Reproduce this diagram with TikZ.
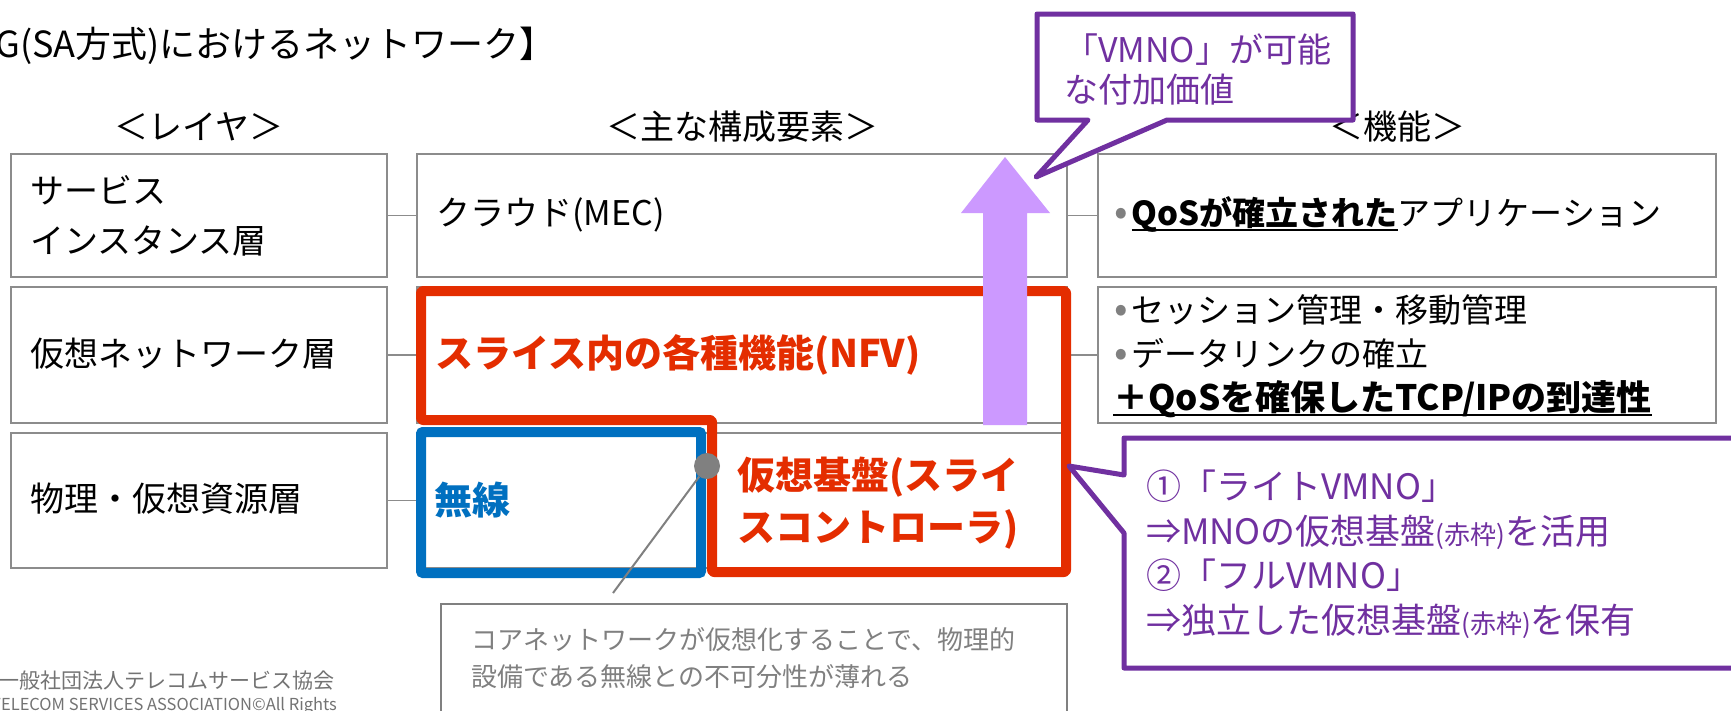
\documentclass[tikz,border=0pt]{standalone}
\usepackage{fontspec}
\setmainfont{Noto Sans CJK JP}
\definecolor{bd}{HTML}{8C8C8C}
\definecolor{rd}{HTML}{E42D00}
\definecolor{bl}{HTML}{0070C0}
\definecolor{pu}{HTML}{7030A0}
\definecolor{lp}{HTML}{CC99FF}
\definecolor{gt}{HTML}{808080}
\newcommand\myul[1]{\setbox0=\hbox{#1}\rlap{\rule[-6pt]{\wd0}{2.5pt}}\box0}
\newcommand\gbul{{\fontsize{40}{40}\selectfont\textcolor{gt}{•}}\hspace{4pt}}
\tikzset{
  box/.style={draw=bd, line width=1.6pt, rectangle, inner sep=0pt, anchor=north west},
  conn/.style={draw=bd, line width=1.6pt},
  txt/.style={anchor=west, inner sep=0pt, align=left, font=\fontsize{34}{50}\selectfont},
  rtxt/.style={txt, text=rd, font=\fontsize{38}{52}\selectfont\bfseries},
  ptxt/.style={txt, text=pu, font=\fontsize{35}{44.5}\selectfont},
  hdr/.style={anchor=center, inner sep=0pt, font=\fontsize{34}{40}\selectfont},
}
\begin{document}
\begin{tikzpicture}[x=1pt,y=-1pt]
\useasboundingbox (0,0) rectangle (1731,710);
\fill[white] (0,0) rectangle (1731,710);

% title and headers
\node[txt, font=\fontsize{36}{40}\selectfont] (title) at (-5,46) {G(SA方式)におけるネットワーク】};
\node[hdr] (hL) at (199,127) {＜レイヤ＞};
\node[hdr] (hM) at (742,127) {＜主な構成要素＞};
\node[hdr] (hR) at (1397,127) {＜機能＞};

% layer boxes
\node[box, minimum width=376pt, minimum height=123pt] (L1) at (10,153) {};
\node[box, minimum width=376pt, minimum height=136pt] (L2) at (10,286) {};
\node[box, minimum width=376pt, minimum height=135pt] (L3) at (10,432) {};
\node[box, minimum width=650pt, minimum height=123pt] (M1) at (416,153) {};
\node[box, minimum width=650pt, minimum height=136pt] (M2) at (416,286) {};
\node[box, minimum width=650pt, minimum height=135pt] (M3) at (416,432) {};
\node[box, minimum width=618pt, minimum height=123pt] (R1) at (1097,153) {};
\node[box, minimum width=618pt, minimum height=136pt] (R2) at (1097,286) {};

\draw[conn] (L1.east) -- (M1.west);
\draw[conn] (L2.east) -- (M2.west);
\draw[conn] (L3.east) -- (M3.west);
\draw[conn] (M1.east) -- (R1.west);
\draw[conn] (M2.east) -- (R2.west);

% layer texts
\node[txt] (t1) at (30,216) {サービス\\インスタンス層};
\node[txt] (t2) at (30,354) {仮想ネットワーク層};
\node[txt] (t3) at (30,499) {物理・仮想資源層};
\node[txt] (tc) at (436,215) {クラウド(MEC)};

% right texts
\node[txt, font=\fontsize{33}{44}\selectfont] (f1) at (1114,214) {\gbul\myul{\bfseries QoSが確立された}アプリケーション};
\node[txt, font=\fontsize{33}{44}\selectfont] (f2) at (1114,332) {\gbul セッション管理・移動管理\\\gbul データリンクの確立};
\node[txt, font=\fontsize{35}{44}\selectfont\bfseries] (f3) at (1113,399) {\myul{＋QoSを確保したTCP/IPの到達性}};

% red and blue frames
\draw[bl, line width=10pt, rounded corners=2pt] (421,432) rectangle (701,573);
\draw[rd, line width=10pt, line join=round, rounded corners=2pt] (421,291) -- (1066,291) -- (1066,572) -- (712,572) -- (712,420) -- (421,420) -- cycle;
\node[rtxt] (nfv) at (435,355) {スライス内の各種機能(NFV)};
\node[rtxt, text=bl] (mu) at (434,500) {無線};
\node[rtxt] (vb) at (737,503) {仮想基盤(スライ\\スコントローラ)};

% purple arrow
\fill[lp] (983,425) -- (983,213) -- (961,213) -- (1005,157) -- (1050,213) -- (1027,213) -- (1027,425) -- cycle;

% top callout
\draw[pu, line width=5pt, line join=round, fill=white] (1037,14) -- (1353,14) -- (1353,120) -- (1167,120) -- (1036,177) -- (1088,120) -- (1037,120) -- cycle;
\node[ptxt, font=\fontsize{34}{40}\selectfont] (cv) at (1064,70) {「VMNO」が可能\\な付加価値};

% bottom callout
\draw[pu, line width=5pt, line join=round, fill=white] (1124,475) -- (1124,438) -- (1745,438) -- (1745,668) -- (1124,668) -- (1124,533) -- (1069,466) -- cycle;
\node[ptxt] (cb) at (1146,554) {①「ライトVMNO」\\⇒MNOの仮想基盤{\fontsize{26}{30}\selectfont(赤枠)}を活用\\②「フルVMNO」\\⇒独立した仮想基盤{\fontsize{26}{30}\selectfont(赤枠)}を保有};

% comment box
\node[box, draw=gt, line width=2pt, minimum width=626pt, minimum height=130pt] (cm) at (440,603) {};
\node[txt, text=gt, font=\fontsize{26}{37}\selectfont] (cmt) at (471,658) {コアネットワークが仮想化することで、物理的\\設備である無線との不可分性が薄れる};
\coordinate (dotend) at (613,593);
\node[circle, fill=gt, minimum size=26pt, inner sep=0pt] (dot) at (707,466) {};
\draw[gt, line width=2pt] (dot) -- (dotend);

% logo
\node[txt, text=gt!90!black, font=\fontsize{21}{24}\selectfont] (lg1) at (-2,681) {一般社団法人テレコムサービス協会};
\node[txt, text=gt!90!black, font=\fontsize{16.5}{18}\selectfont] (lg2) at (-9,706) {TELECOM SERVICES ASSOCIATION©All Rights};
\end{tikzpicture}
\end{document}
